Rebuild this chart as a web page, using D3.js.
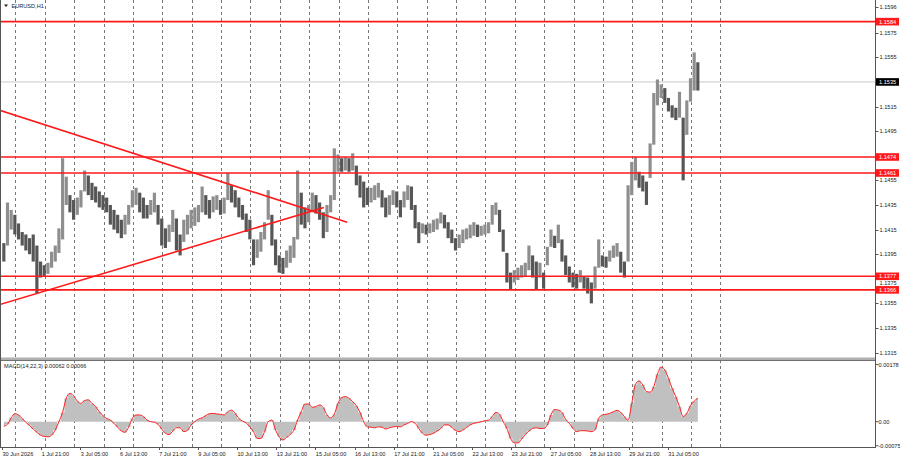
<!DOCTYPE html>
<html>
<head>
<meta charset="utf-8">
<script src="https://cdn.jsdelivr.net/npm/d3@7"></script>
<style>
body { margin: 0; background: #fff; }
svg { display: block; font-family: "Liberation Sans", Arial, sans-serif; }
</style>
</head>
<body>
<div id="chart"></div>
<script>
// EURUSD H1, one entry = 3 hourly bars (high / low)
var priceHigh = [
 1.1404,1.1437,1.1431,1.1427,1.1420,1.1413,1.1411,1.1408,1.1411,1.1402,
 1.1389,1.1386,1.1388,1.1397,1.1402,1.1416,1.1473,1.1458,1.1443,1.1439,
 1.1441,1.1447,1.1463,1.1459,1.1453,1.1450,1.1446,1.1443,1.1441,1.1435,
 1.1431,1.1427,1.1423,1.1427,1.1435,1.1447,1.1449,1.1445,1.1441,1.1435,
 1.1439,1.1445,1.1435,1.1424,1.1416,1.1419,1.1431,1.1424,1.1411,1.1423,
 1.1427,1.1431,1.1433,1.1435,1.1450,1.1443,1.1439,1.1442,1.1443,1.1439,
 1.1441,1.1461,1.1451,1.1447,1.1441,1.1435,1.1428,1.1423,1.1407,1.1407,
 1.1413,1.1421,1.1447,1.1427,1.1407,1.1394,1.1392,1.1398,1.1402,1.1409,
 1.1463,1.1445,1.1433,1.1435,1.1445,1.1443,1.1437,1.1429,1.1435,1.1443,
 1.1481,1.1476,1.1473,1.1474,1.1473,1.1477,1.1467,1.1459,1.1454,1.1449,
 1.1449,1.1451,1.1453,1.1447,1.1441,1.1443,1.1447,1.1446,1.1439,1.1446,
 1.1451,1.1450,1.1435,1.1421,1.1420,1.1419,1.1420,1.1423,1.1424,1.1429,
 1.1427,1.1421,1.1415,1.1408,1.1411,1.1415,1.1416,1.1419,1.1421,1.1419,
 1.1418,1.1419,1.1421,1.1435,1.1437,1.1431,1.1415,1.1396,1.1380,1.1382,
 1.1384,1.1386,1.1388,1.1402,1.1394,1.1389,1.1388,1.1380,1.1401,1.1415,
 1.1410,1.1419,1.1407,1.1394,1.1385,1.1380,1.1379,1.1382,1.1377,1.1376,
 1.1372,1.1385,1.1407,1.1394,1.1393,1.1398,1.1402,1.1404,1.1397,1.1389,
 1.1451,1.1470,1.1474,1.1462,1.1459,1.1454,1.1485,1.1526,1.1537,1.1533,
 1.1530,1.1522,1.1516,1.1514,1.1527,1.1506,1.1520,1.1538,1.1559,1.1551
];
var priceLow = [
 1.1389,1.1402,1.1415,1.1411,1.1407,1.1402,1.1398,1.1395,1.1389,1.1363,
 1.1376,1.1377,1.1379,1.1384,1.1389,1.1396,1.1407,1.1435,1.1429,1.1423,
 1.1427,1.1433,1.1446,1.1443,1.1439,1.1437,1.1433,1.1431,1.1429,1.1419,
 1.1415,1.1412,1.1408,1.1411,1.1419,1.1433,1.1435,1.1429,1.1424,1.1424,
 1.1427,1.1429,1.1419,1.1402,1.1400,1.1405,1.1413,1.1398,1.1394,1.1405,
 1.1411,1.1416,1.1418,1.1421,1.1429,1.1427,1.1424,1.1429,1.1431,1.1427,
 1.1428,1.1439,1.1437,1.1433,1.1425,1.1423,1.1413,1.1407,1.1386,1.1392,
 1.1397,1.1407,1.1423,1.1402,1.1386,1.1380,1.1379,1.1384,1.1388,1.1392,
 1.1407,1.1419,1.1416,1.1421,1.1429,1.1428,1.1423,1.1408,1.1413,1.1429,
 1.1439,1.1462,1.1462,1.1463,1.1462,1.1463,1.1451,1.1441,1.1433,1.1435,
 1.1437,1.1439,1.1441,1.1433,1.1425,1.1427,1.1435,1.1433,1.1425,1.1433,
 1.1439,1.1431,1.1416,1.1404,1.1412,1.1411,1.1412,1.1413,1.1415,1.1420,
 1.1416,1.1408,1.1404,1.1398,1.1400,1.1404,1.1407,1.1408,1.1410,1.1409,
 1.1410,1.1411,1.1412,1.1419,1.1427,1.1413,1.1397,1.1372,1.1366,1.1372,
 1.1374,1.1376,1.1377,1.1382,1.1376,1.1366,1.1376,1.1367,1.1386,1.1401,
 1.1400,1.1404,1.1389,1.1378,1.1372,1.1368,1.1367,1.1372,1.1367,1.1363,
 1.1355,1.1367,1.1384,1.1385,1.1384,1.1389,1.1392,1.1393,1.1380,1.1376,
 1.1389,1.1443,1.1455,1.1449,1.1446,1.1435,1.1457,1.1484,1.1516,1.1522,
 1.1518,1.1511,1.1506,1.1504,1.1506,1.1455,1.1492,1.1519,1.1528,1.1528
];
// MACD(14,22,3) main, same 3-bar steps
var macdMain = [
 -0.00014,-0.00008,0.00012,0.00025,0.00021,0.00010,-0.00002,-0.00012,-0.00023,-0.00033,
 -0.00042,-0.00046,-0.00047,-0.00042,-0.00026,0.00000,0.00029,0.00073,0.00088,0.00081,
 0.00064,0.00057,0.00066,0.00068,0.00057,0.00047,0.00031,0.00019,0.00010,0.00005,
 -0.00005,-0.00017,-0.00029,-0.00033,-0.00016,0.00010,0.00021,0.00021,0.00016,0.00005,
 0.00000,-0.00002,-0.00008,-0.00023,-0.00036,-0.00040,-0.00029,-0.00019,-0.00019,-0.00031,
 -0.00027,-0.00010,0.00000,0.00008,0.00012,0.00019,0.00025,0.00026,0.00024,0.00023,
 0.00021,0.00031,0.00036,0.00026,0.00010,0.00002,-0.00004,-0.00016,-0.00031,-0.00052,
 -0.00052,-0.00031,0.00000,0.00005,-0.00026,-0.00047,-0.00057,-0.00049,-0.00040,-0.00026,
 0.00005,0.00031,0.00055,0.00055,0.00045,0.00047,0.00052,0.00044,0.00021,0.00012,
 0.00023,0.00057,0.00075,0.00078,0.00073,0.00062,0.00050,0.00029,0.00000,-0.00016,
 -0.00017,-0.00019,-0.00016,-0.00017,-0.00023,-0.00019,-0.00016,-0.00015,-0.00016,-0.00010,
 -0.00005,0.00000,-0.00005,-0.00021,-0.00036,-0.00042,-0.00040,-0.00036,-0.00029,-0.00021,
 -0.00010,-0.00010,-0.00018,-0.00027,-0.00031,-0.00026,-0.00018,-0.00010,-0.00005,-0.00003,
 0.00000,0.00003,0.00005,0.00016,0.00029,0.00023,0.00000,-0.00021,-0.00052,-0.00066,
 -0.00066,-0.00054,-0.00040,-0.00029,-0.00021,-0.00019,-0.00021,-0.00021,-0.00010,0.00021,
 0.00038,0.00036,0.00029,0.00007,-0.00005,-0.00021,-0.00031,-0.00028,-0.00028,-0.00029,
 -0.00031,-0.00025,0.00010,0.00021,0.00023,0.00026,0.00031,0.00035,0.00029,0.00016,
 0.00004,0.00057,0.00116,0.00127,0.00114,0.00094,0.00092,0.00109,0.00148,0.00170,
 0.00161,0.00135,0.00104,0.00078,0.00047,0.00016,0.00026,0.00050,0.00064,0.00073
];

var levels = [1.1584, 1.1474, 1.1461, 1.1377, 1.1366];
var bidPrice = 1.1535;
// trend lines: [bar, price] end points
var trendLines = [
  [[-2, 1.1512], [282, 1.1421]],
  [[-2, 1.1354], [263, 1.1433]]
];
var priceTicks = [1.1596, 1.1575, 1.1555, 1.1535, 1.1515, 1.1495, 1.1475, 1.1455, 1.1435, 1.1415, 1.1395, 1.1375, 1.1355, 1.1335, 1.1315];
var macdTicks = [0.00178, 0, -0.00075];
var macdTickLabels = ["0.00178", "0.00", "-0.00075"];
var timeLabels = ["30 Jun 2026","1 Jul 21:00","3 Jul 05:00","6 Jul 13:00","7 Jul 21:00","9 Jul 05:00",
  "10 Jul 13:00","13 Jul 21:00","15 Jul 05:00","16 Jul 13:00","17 Jul 21:00","21 Jul 05:00",
  "22 Jul 13:00","23 Jul 21:00","27 Jul 05:00","28 Jul 13:00","29 Jul 21:00","31 Jul 05:00"];
var barsPerStep = 3, barsPerLabel = 32;

var width = 900, height = 460;
var axisX = 875.5, mainBottom = 357, macdBottom = 447;

var svg = d3.select("#chart").append("svg")
  .attr("width", width)
  .attr("height", height);

var x = d3.scaleLinear().domain([0, 713]).range([2, 2 + 713 * 1.224]);
var y = d3.scaleLinear().domain([1.1315, 1.1596]).range([352.6, 6.9]);
var ym = d3.scaleLinear().domain([-0.00075, 0.00178]).range([445.8, 364.5]);
var step = x(barsPerStep) - x(0);

svg.append("clipPath").attr("id", "mainClip").append("rect")
  .attr("x", 0).attr("y", 0).attr("width", axisX).attr("height", mainBottom);
svg.append("clipPath").attr("id", "macdClip").append("rect")
  .attr("x", 0).attr("y", 361).attr("width", axisX).attr("height", macdBottom - 361);

// day grid (dashed)
svg.append("g").selectAll("line")
  .data(d3.range(11, 590, 24))
  .join("line")
  .attr("x1", d => Math.round(x(d)) + 0.5).attr("x2", d => Math.round(x(d)) + 0.5)
  .attr("y1", 0).attr("y2", macdBottom)
  .attr("stroke", "#555").attr("stroke-width", 0.8)
  .attr("stroke-dasharray", "3,3");

var main = svg.append("g").attr("clip-path", "url(#mainClip)");

// bid line
main.append("line")
  .attr("x1", 0).attr("x2", axisX)
  .attr("y1", y(bidPrice)).attr("y2", y(bidPrice))
  .attr("stroke", "#c8c8c8").attr("stroke-width", 1);

// candles
main.append("g").selectAll("rect")
  .data(priceHigh)
  .join("rect")
  .attr("x", (d, i) => x(i * barsPerStep) + 0.25)
  .attr("width", step - 0.5)
  .attr("y", d => y(d))
  .attr("height", (d, i) => Math.max(1, y(priceLow[i]) - y(d)))
  .attr("fill", (d, i) => {
    if (i == 0) return "#5a5a5a";
    var m = (d + priceLow[i]) / 2, pm = (priceHigh[i - 1] + priceLow[i - 1]) / 2;
    return m >= pm ? "#8e8e8e" : "#565656";
  });

// horizontal levels
main.append("g").selectAll("line")
  .data(levels)
  .join("line")
  .attr("x1", 0).attr("x2", axisX)
  .attr("y1", d => y(d)).attr("y2", d => y(d))
  .attr("stroke", "#ff1a1a").attr("stroke-width", 1.6);

// trend lines
main.append("g").selectAll("line")
  .data(trendLines)
  .join("line")
  .attr("x1", d => x(d[0][0])).attr("y1", d => y(d[0][1]))
  .attr("x2", d => x(d[1][0])).attr("y2", d => y(d[1][1]))
  .attr("stroke", "#ff1a1a").attr("stroke-width", 1.6);

// MACD panel
var macd = svg.append("g").attr("clip-path", "url(#macdClip)");
var macdArea = d3.area()
  .x((d, i) => x(i * barsPerStep + 1.5))
  .y0(ym(0))
  .y1(d => Math.abs(ym(d) - ym(0)) < 0.8 ? ym(0) - 0.8 : ym(d))
  .curve(d3.curveStep);
macd.append("path")
  .datum(macdMain)
  .attr("d", macdArea)
  .attr("fill", "#c0c0c0");

var macdLine = d3.line()
  .x((d, i) => x(i * barsPerStep + 1.5))
  .y(d => ym(d))
  .curve(d3.curveMonotoneX);
macd.append("path")
  .datum(macdMain)
  .attr("d", macdLine)
  .attr("fill", "none")
  .attr("stroke", "#ff2020")
  .attr("stroke-width", 1);

// frame
svg.append("rect").attr("x", 0).attr("y", mainBottom + 0.5).attr("width", axisX).attr("height", 3)
  .attr("fill", "#b0b0b0");
svg.append("line").attr("x1", 0).attr("x2", axisX).attr("y1", mainBottom + 3.5).attr("y2", mainBottom + 3.5)
  .attr("stroke", "#707070");
svg.append("line").attr("x1", 0.5).attr("x2", 0.5).attr("y1", 0).attr("y2", macdBottom)
  .attr("stroke", "#555");
svg.append("line").attr("x1", 0).attr("x2", axisX).attr("y1", macdBottom + 0.5).attr("y2", macdBottom + 0.5)
  .attr("stroke", "#555");
svg.append("line").attr("x1", axisX).attr("x2", axisX).attr("y1", 0).attr("y2", macdBottom + 1)
  .attr("stroke", "#555");

// level tags (drawn first so tick labels can dodge them)
var tagData = levels.map(p => ({p: p, c: "#ff1a1a"})).concat([{p: bidPrice, c: "#000"}]);
var tagBoxes = tagData.map(d => [y(d.p) - 3.8, y(d.p) + 3.8]);

// price axis
var pa = svg.append("g").attr("font-size", "5.6px").attr("fill", "#222");
pa.selectAll("line")
  .data(priceTicks)
  .join("line")
  .attr("x1", axisX).attr("x2", axisX + 3)
  .attr("y1", d => Math.round(y(d)) + 0.5).attr("y2", d => Math.round(y(d)) + 0.5)
  .attr("stroke", "#555");
// labels fully covered by a tag are left out, partly covered ones slide into the free gap
var shownTicks = priceTicks.map(d => {
  var base = y(d) + 2, top = base - 4;
  var hit = tagBoxes.filter(b => base > b[0] && top < b[1]);
  if (!hit.length) return {p: d, yy: base};
  var b = hit[0];
  if (Math.abs(y(d) - (b[0] + b[1]) / 2) < 2) return null;
  return {p: d, yy: y(d) > (b[0] + b[1]) / 2 ? b[1] + 4.4 : b[0] - 0.4};
}).filter(d => d);
pa.selectAll("text")
  .data(shownTicks)
  .join("text")
  .attr("x", axisX + 4)
  .attr("y", d => d.yy)
  .text(d => d.p.toFixed(4));

var tags = svg.append("g").attr("font-size", "5.6px");
tags.selectAll("rect")
  .data(tagData)
  .join("rect")
  .attr("x", axisX + 0.5).attr("width", 23)
  .attr("y", d => y(d.p) - 3.8).attr("height", 7.6)
  .attr("fill", d => d.c);
tags.selectAll("text")
  .data(tagData)
  .join("text")
  .attr("x", axisX + 3.5)
  .attr("y", d => y(d.p) + 2)
  .attr("fill", "#fff")
  .text(d => d.p.toFixed(4));

// macd axis
var ma = svg.append("g").attr("font-size", "5.6px").attr("fill", "#222");
ma.selectAll("line")
  .data(macdTicks)
  .join("line")
  .attr("x1", axisX).attr("x2", axisX + 3)
  .attr("y1", d => ym(d)).attr("y2", d => ym(d))
  .attr("stroke", "#555");
ma.selectAll("text")
  .data(macdTicks)
  .join("text")
  .attr("x", axisX + 3)
  .attr("y", d => ym(d) + 2)
  .text((d, i) => macdTickLabels[i]);

// time axis
var ta = svg.append("g").attr("font-size", "5.6px").attr("fill", "#222");
ta.selectAll("line")
  .data(timeLabels)
  .join("line")
  .attr("x1", (d, i) => Math.round(x(i * barsPerLabel)) + 0.5)
  .attr("x2", (d, i) => Math.round(x(i * barsPerLabel)) + 0.5)
  .attr("y1", macdBottom).attr("y2", macdBottom + 3)
  .attr("stroke", "#555");
ta.selectAll("text")
  .data(timeLabels)
  .join("text")
  .attr("x", (d, i) => x(i * barsPerLabel) + 0.5)
  .attr("y", 455.5)
  .text(d => d);

// titles
svg.append("path").attr("d", "M4,4.6L8,4.6L6,7Z").attr("fill", "#222");
svg.append("text").attr("x", 11.5).attr("y", 8.4)
  .attr("font-size", "5.6px").attr("fill", "#222").text("EURUSD,H1");
svg.append("text").attr("x", 4).attr("y", 368)
  .attr("font-size", "5.6px").attr("fill", "#222").text("MACD(14,22,3) 0.00062 0.00066");
</script>
</body>
</html>
